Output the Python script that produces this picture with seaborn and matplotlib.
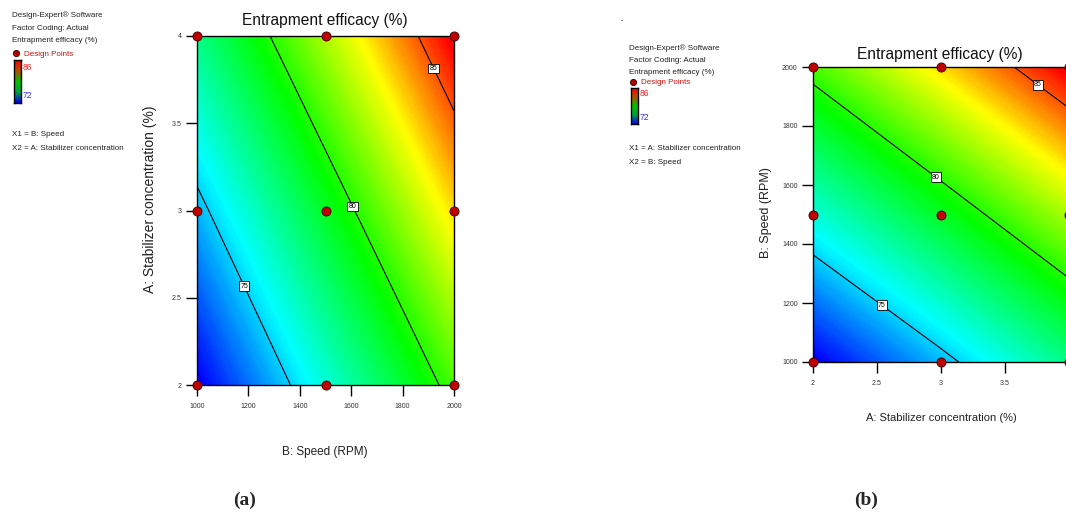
import numpy as np
import pandas as pd
import matplotlib
matplotlib.use("Agg")
import matplotlib.pyplot as plt
from matplotlib.colors import LinearSegmentedColormap, Normalize
import seaborn as sns

# ---------------- data ----------------
speed_levels = [1000, 1500, 2000]          # B: Speed (RPM)
stab_levels = [2, 3, 4]                    # A: Stabilizer concentration (%)
# entrapment efficacy (%) at the design points, one list per stabilizer level
ee_stab2 = [71.8, 76.2, 80.5]
ee_stab3 = [74.6, 79.0, 83.4]
ee_stab4 = [77.5, 81.9, 86.2]
contour_levels = [75, 80, 85]
ee_low, ee_high = 72, 86
speed_ticks = [1000, 1200, 1400, 1600, 1800, 2000]
stab_ticks = [2, 2.5, 3, 3.5, 4]
stab_tick_labels = ["2", "2.5", "3", "3.5", "4"]
title = "Entrapment efficacy (%)"

# ---------------- styling ----------------
sns.set_style("white")
NARROW = ['Liberation Sans Narrow', 'Liberation Sans', 'DejaVu Sans']
plt.rcParams['font.family'] = NARROW

cmap = LinearSegmentedColormap.from_list(
    "de", [(0.0, "#0000ff"), (0.26, "#00ffff"), (0.54, "#00ff00"),
           (0.79, "#ffff00"), (1.0, "#ff0000")])
legend_cmap = LinearSegmentedColormap.from_list(
    "deleg", ["#0000ff", "#00a040", "#00c000", "#b05000", "#ff0000"])
norm = Normalize(ee_low, ee_high)

Z = np.array([ee_stab2, ee_stab3, ee_stab4])
df = pd.DataFrame([(s, a, Z[i, j]) for i, a in enumerate(stab_levels)
                   for j, s in enumerate(speed_levels)],
                  columns=["speed", "stab", "ee"])

W, H = 1066, 516
fig = plt.figure(figsize=(W / 100, H / 100), dpi=100)


def px_axes(l, t, r, b):
    return fig.add_axes([l / W, 1 - b / H, (r - l) / W, (b - t) / H])


def draw_panel(ax, xs, ys, zz, xcol, ycol, label_pos):
    fill_levels = np.linspace(70, 88, 181)
    ax.contourf(xs, ys, zz, levels=fill_levels, cmap=cmap, norm=norm)
    cs = ax.contour(xs, ys, zz, levels=contour_levels, colors="black",
                    linewidths=0.8)
    texts = ax.clabel(cs, fmt="%d", manual=label_pos, inline=False,
                      fontsize=5)
    for t in texts:
        t.set_rotation(0)
        t.set_bbox(dict(boxstyle="square,pad=0.2", fc="white",
                        ec="black", lw=0.6))
        t.set_zorder(7)
    sns.scatterplot(data=df, x=xcol, y=ycol, ax=ax, s=42, color="#c00000",
                    edgecolor="#4a0000", linewidth=0.7, legend=False,
                    zorder=8, clip_on=False)
    ax.set_xlabel("")
    ax.set_ylabel("")
    for sp in ax.spines.values():
        sp.set_visible(True)
        sp.set_color("black")
        sp.set_linewidth(1.0)
    ax.tick_params(direction="out", length=8, width=1, color="black",
                   labelsize=5, labelcolor="#333333", pad=3,
                   bottom=True, left=True)
    ax.tick_params(axis="x", pad=5)


# Panel (a): x = speed, y = stabilizer
axa = px_axes(197, 36, 454, 385)
draw_panel(axa, speed_levels, stab_levels, Z, "speed", "stab",
           [(1187, 2.57), (1615, 3.03), (1930, 3.82)])
axa.set_xlim(1000, 2000)
axa.set_ylim(2, 4)
axa.set_xticks(speed_ticks)
axa.set_yticks(stab_ticks)
axa.set_yticklabels(stab_tick_labels)

# Panel (b): x = stabilizer, y = speed (right edge runs off the canvas)
axb = px_axes(813, 67, 1069, 362)
draw_panel(axb, stab_levels, speed_levels, Z.T, "stab", "speed",
           [(2.55, 1200), (2.98, 1637), (3.78, 1953)])
axb.set_xlim(2, 4)
axb.set_ylim(1000, 2000)
axb.set_xticks(stab_ticks[:-1])
axb.set_xticklabels(stab_tick_labels[:-1])
axb.set_yticks(speed_ticks)

# ---------------- overlay texts in pixel coordinates ----------------
ov = fig.add_axes([0, 0, 1, 1])
ov.set_xlim(0, W)
ov.set_ylim(H, 0)
ov.axis("off")

LFS = 5.8
txt = dict(fontsize=LFS, color="#222222", va="center", ha="left")


def legend_block(x0, ys, x1, x2, cb, red_y, blue_y, dot):
    ov.text(x0, ys[0], "Design-Expert® Software", **txt)
    ov.text(x0, ys[1], "Factor Coding: Actual", **txt)
    ov.text(x0, ys[2], "Entrapment efficacy (%)", **txt)
    ov.plot([dot[0]], [dot[1]], "o", ms=4.5, mfc="#b00000", mec="#300000",
            mew=0.6)
    ov.text(dot[0] + 8, dot[1] + 1, "Design Points", fontsize=LFS,
            color="#cc1010", va="center", ha="left")
    cax = px_axes(*cb)
    cax.imshow(np.linspace(1, 0, 100).reshape(-1, 1), aspect="auto",
               cmap=legend_cmap)
    cax.set_xticks([])
    cax.set_yticks([])
    for sp in cax.spines.values():
        sp.set_color("black")
        sp.set_linewidth(1.0)
    ov.text(cb[2] + 2, red_y, str(ee_high), fontsize=LFS + 0.4,
            color="#ff2020", va="center", ha="left")
    ov.text(cb[2] + 2, blue_y, str(ee_low), fontsize=LFS + 0.4,
            color="#3030ff", va="center", ha="left")
    ov.text(x0, ys[3], x1, **txt)
    ov.text(x0, ys[4], x2, **txt)


legend_block(12, [15, 28, 41, 135, 148], "X1 = B: Speed",
             "X2 = A: Stabilizer concentration", (14, 60, 21, 103), 68, 95,
             (16, 53))
legend_block(629, [48, 60, 72, 149, 162], "X1 = A: Stabilizer concentration",
             "X2 = B: Speed", (631, 88, 638, 124), 94, 117, (633, 82))
ov.text(622, 21, "-", fontsize=5, color="#333333", ha="center", va="center")

ov.text(325, 21, title, fontsize=11.2, ha="center", va="center",
        color="#111111")
ov.text(940, 55, title, fontsize=11.2, ha="center", va="center",
        color="#111111")
ov.text(150, 199, "A: Stabilizer concentration (%)", fontsize=10,
        rotation=90, ha="center", va="center", color="#222222")
ov.text(325, 452, "B: Speed (RPM)", fontsize=8.5, ha="center", va="center",
        color="#222222")
ov.text(766, 213, "B: Speed (RPM)", fontsize=9, rotation=90, ha="center",
        va="center", color="#222222")
ov.text(941, 418, "A: Stabilizer concentration (%)", fontsize=8,
        ha="center", va="center", color="#222222")
ov.text(245, 500, "(a)", fontsize=14, fontweight="bold",
        family=["Liberation Serif", "DejaVu Serif"], ha="center",
        va="center")
ov.text(866, 500, "(b)", fontsize=14, fontweight="bold",
        family=["Liberation Serif", "DejaVu Serif"], ha="center",
        va="center")

fig.savefig("out.png", dpi=100)
